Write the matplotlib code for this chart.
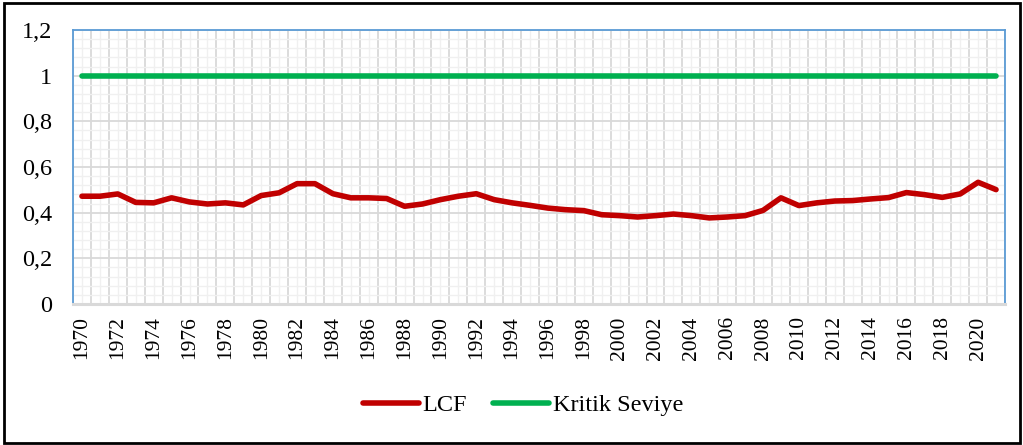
import matplotlib
matplotlib.use("Agg")
import matplotlib.pyplot as plt
from matplotlib.patches import Rectangle
import numpy as np

years = list(range(1970, 2022))
lcf = [0.472, 0.472, 0.482, 0.445, 0.443, 0.465, 0.447, 0.438, 0.443, 0.434,
       0.475, 0.487, 0.527, 0.527, 0.483, 0.465, 0.465, 0.462, 0.428, 0.438,
       0.457, 0.472, 0.483, 0.457, 0.443, 0.432, 0.420, 0.413, 0.409, 0.391,
       0.387, 0.381, 0.387, 0.394, 0.387, 0.377, 0.381, 0.387, 0.410, 0.465,
       0.431, 0.443, 0.451, 0.453, 0.460, 0.466, 0.488, 0.479, 0.467, 0.482,
       0.533, 0.501]
kritik = [1.0] * len(years)
yticks = [0, 0.2, 0.4, 0.6, 0.8, 1.0, 1.2]
ytick_labels = ["0", "0,2", "0,4", "0,6", "0,8", "1", "1,2"]

plt.rcParams['font.family'] = ['Liberation Serif', 'DejaVu Serif']

fig = plt.figure(figsize=(10.23, 4.45), dpi=100)
ax = fig.add_axes([73/1023, 1 - 304/445, (1005-73)/1023, (304-30)/445])

x = np.arange(len(years))
ax.plot(x, lcf, color='#C00000', lw=4, solid_capstyle='round', solid_joinstyle='round', label='LCF', zorder=3)
ax.plot(x, kritik, color='#00B050', lw=4, solid_capstyle='round', label='Kritik Seviye', zorder=3)

ax.set_xlim(-0.5, len(years) - 0.5)
ax.set_ylim(0, 1.2)

# grid
ax.set_xticks(np.arange(-0.5, len(years), 1.0))
ax.set_xticks(x, minor=True)
ax.set_yticks(yticks)
ax.set_yticks(np.arange(0, 1.2001, 0.04), minor=True)
ax.grid(which='major', color='#D9D9D9', lw=1.3, zorder=0)
ax.grid(which='minor', color='#F0F0F0', lw=1.0, zorder=0)
ax.set_axisbelow(True)

ax.set_yticklabels(ytick_labels, fontsize=17.5)
ax.tick_params(axis='y', which='both', length=0, pad=15)
ax.set_xticklabels([])
ax.tick_params(axis='x', which='both', length=0)

# x labels at category centres, every 2 years
for i, yr in enumerate(years):
    if yr % 2 == 0:
        ax.text(i, -0.045, str(yr), rotation=90, ha='center', va='top', fontsize=15.5,
                transform=ax.get_xaxis_transform())

for s in ['left', 'top', 'right']:
    ax.spines[s].set_color('#5B9BD5')
    ax.spines[s].set_linewidth(1.3)
ax.spines['bottom'].set_color('#D9D9D9')
ax.spines['bottom'].set_linewidth(2.2)

leg = fig.legend(loc='center', bbox_to_anchor=(523/1023, 1 - 405/445), ncol=2, frameon=False,
                 fontsize=17.5, handlelength=2.3, handletextpad=0.15, columnspacing=1.1)

fig.patches.append(Rectangle((4/1023, 2/445), 1016/1023, 440/445, transform=fig.transFigure,
                             fill=False, edgecolor='black', lw=2))

fig.savefig('out.png', dpi=100)
